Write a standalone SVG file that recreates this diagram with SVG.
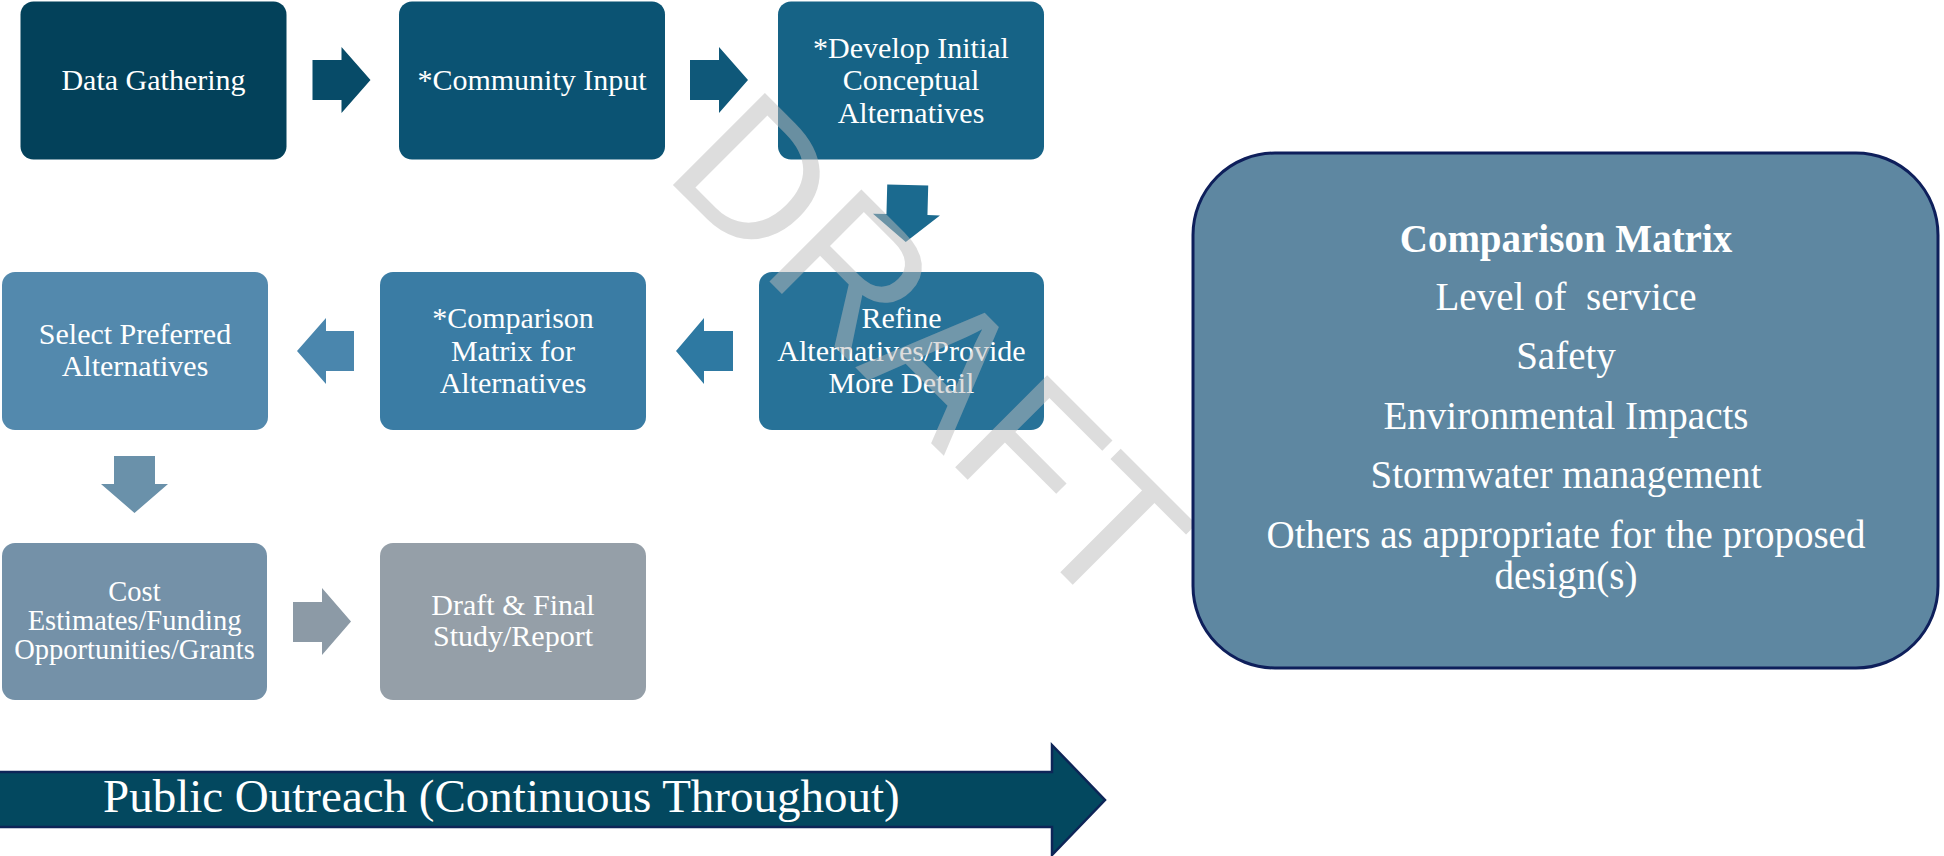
<svg xmlns="http://www.w3.org/2000/svg" width="1944" height="856" viewBox="0 0 1944 856">
<style>
.box{stroke:none}
.t{font-family:"Liberation Serif","Times New Roman",serif;font-size:30px;fill:#ffffff;text-anchor:middle}
.m{font-family:"Liberation Serif","Times New Roman",serif;font-size:39px;fill:#ffffff;text-anchor:middle}
.wm{font-family:"Liberation Sans",Arial,sans-serif;font-size:189px;fill:#bbbbbb;fill-opacity:0.5}
</style>
<rect width="1944" height="856" fill="#ffffff"/>
<g id="n-data-gathering">
<rect class="box" x="20.5" y="1.5" width="266" height="158" rx="13" fill="#03415a"/>
<text class="t" x="153.5" y="90">Data Gathering</text>
</g>
<g id="n-community-input">
<rect class="box" x="399" y="1.5" width="266" height="158" rx="13" fill="#0b5373"/>
<text class="t" x="532" y="90">*Community Input</text>
</g>
<g id="n-develop">
<rect class="box" x="778" y="1.5" width="266" height="158" rx="13" fill="#166386"/>
<text class="t" x="911" y="57.5">*Develop Initial</text>
<text class="t" x="911" y="90">Conceptual</text>
<text class="t" x="911" y="122.5">Alternatives</text>
</g>
<g id="n-refine">
<rect class="box" x="759" y="272" width="285" height="158" rx="13" fill="#277298"/>
<text class="t" x="901.5" y="328">Refine</text>
<text class="t" x="901.5" y="360.5">Alternatives/Provide</text>
<text class="t" x="901.5" y="393">More Detail</text>
</g>
<g id="n-comparison">
<rect class="box" x="380" y="272" width="266" height="158" rx="13" fill="#3a7ca4"/>
<text class="t" x="513" y="328">*Comparison</text>
<text class="t" x="513" y="360.5">Matrix for</text>
<text class="t" x="513" y="393">Alternatives</text>
</g>
<g id="n-select">
<rect class="box" x="2" y="272" width="266" height="158" rx="13" fill="#5389ad"/>
<text class="t" x="135" y="343.5">Select Preferred</text>
<text class="t" x="135" y="376">Alternatives</text>
</g>
<g id="n-cost">
<rect class="box" x="2" y="543" width="265" height="157" rx="13" fill="#7491a8"/>
<text class="t" x="134.5" y="600.5" style="font-size:28.5px">Cost</text>
<text class="t" x="134.5" y="629.5" style="font-size:28.5px">Estimates/Funding</text>
<text class="t" x="134.5" y="658.5" style="font-size:28.5px">Opportunities/Grants</text>
</g>
<g id="n-draft">
<rect class="box" x="380" y="543" width="266" height="157" rx="13" fill="#959fa8"/>
<text class="t" x="513" y="614.5">Draft &amp; Final</text>
<text class="t" x="513" y="645.5">Study/Report</text>
</g>
<g id="connectors">
<polygon points="312.5,60 341.5,60 341.5,47 370.5,80 341.5,113 341.5,100 312.5,100" fill="#074b68"/>
<polygon points="690,60 719,60 719,47 748,80 719,113 719,100 690,100" fill="#0f5879"/>
<polygon transform="rotate(1.5 906 213)" points="886.5,185 927.5,185 927.5,214.5 940,214.5 906.5,242 873,214.5 886.5,214.5" fill="#1b6a8f"/>
<polygon points="733,331 704,331 704,318 676,351 704,384 704,371 733,371" fill="#2e79a2"/>
<polygon points="354,331 326,331 326,318 297,351 326,384 326,371 354,371" fill="#4a86ad"/>
<polygon points="114,456 155,456 155,484 168,484 134.5,513 101,484 114,484" fill="#6a91aa"/>
<polygon points="293,602 322,602 322,588 351,621.5 322,655 322,642 293,642" fill="#8c9aa6"/>
</g>
<g id="watermark">
<text class="wm" x="0" y="0" transform="translate(662 174) rotate(45)">DRAFT</text>
</g>
<g id="n-matrix">
<rect x="1193" y="153" width="745" height="515" rx="82" ry="82" fill="#5e87a1" stroke="#0e1f5b" stroke-width="3"/>
<text class="m" x="1566" y="252" font-weight="bold">Comparison Matrix</text>
<text class="m" x="1566" y="310" xml:space="preserve">Level of  service</text>
<text class="m" x="1566" y="369">Safety</text>
<text class="m" x="1566" y="429">Environmental Impacts</text>
<text class="m" x="1566" y="488">Stormwater management</text>
<text class="m" x="1566" y="548">Others as appropriate for the proposed</text>
<text class="m" x="1566" y="589">design(s)</text>
</g>
<g id="n-public-outreach">
<polygon points="-3,772 1052,772 1052,745 1105,800 1052,855 1052,827 -3,827" fill="#03485f" stroke="#0d2557" stroke-width="2.5" stroke-linejoin="miter"/>
<text x="103" y="812" style="font-family:'Liberation Serif','Times New Roman',serif;font-size:47px;fill:#ffffff">Public Outreach (Continuous Throughout)</text>
</g>
</svg>
